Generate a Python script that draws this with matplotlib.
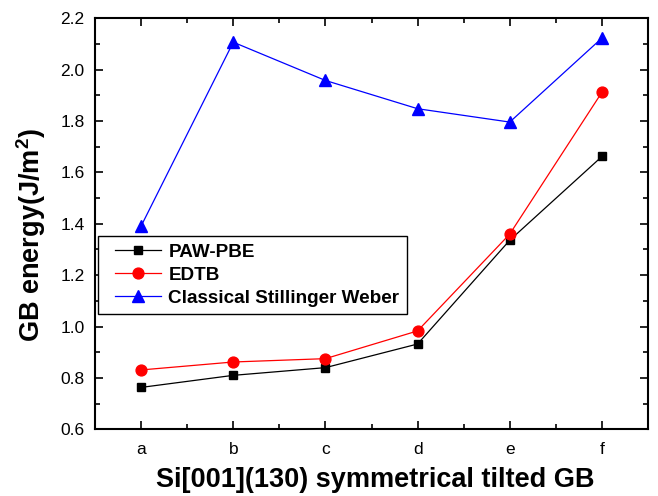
import matplotlib
matplotlib.use("Agg")
import matplotlib.pyplot as plt
from matplotlib.lines import Line2D
from matplotlib.legend_handler import HandlerLine2D
from matplotlib.ticker import MultipleLocator, AutoMinorLocator

plt.rcParams['font.family'] = ['Liberation Sans', 'DejaVu Sans']
plt.rcParams['mathtext.fontset'] = 'custom'
plt.rcParams['mathtext.bf'] = 'Liberation Sans:bold'
plt.rcParams['mathtext.rm'] = 'Liberation Sans'

# data
categories = ['a', 'b', 'c', 'd', 'e', 'f']
paw_pbe = [0.763, 0.810, 0.840, 0.932, 1.336, 1.662]
edtb = [0.831, 0.862, 0.875, 0.983, 1.360, 1.912]
stillinger_weber = [1.391, 2.107, 1.958, 1.848, 1.796, 2.123]

x = list(range(len(categories)))

fig = plt.figure(figsize=(6.58, 4.96), dpi=100)
ax = fig.add_axes([0.1444, 0.1345, 0.8404, 0.8286])

ax.plot(x, paw_pbe, color='black', lw=0.9, marker='s', ms=6.0, label='PAW-PBE')
ax.plot(x, edtb, color='red', lw=0.9, marker='o', ms=7.8, label='EDTB')
ax.plot(x, stillinger_weber, color='blue', lw=0.9, marker='^', ms=9,
        label='Classical Stillinger Weber')

ax.set_xlim(-0.5, 5.5)
ax.set_ylim(0.6, 2.2)
ax.set_xticks(x)
ax.set_xticklabels(categories)
ax.xaxis.set_minor_locator(AutoMinorLocator(2))
ax.yaxis.set_major_locator(MultipleLocator(0.2))
ax.yaxis.set_minor_locator(MultipleLocator(0.1))
ax.yaxis.set_major_formatter(plt.FuncFormatter(lambda v, p: f"{v:.1f}"))

ax.tick_params(which='both', direction='in', top=True, right=True,
               labeltop=False, labelright=False, width=1.2)
ax.tick_params(which='major', length=6, labelsize=12.5)
ax.tick_params(axis='x', which='major', pad=9)
ax.tick_params(axis='y', which='major', pad=7.5)
ax.tick_params(which='minor', length=3.5)
for s in ax.spines.values():
    s.set_linewidth(1.5)

ax.set_xlabel('Si[001](130) symmetrical tilted GB', fontsize=19.5,
              fontweight='bold')
ax.set_ylabel(r'GB energy(J/m$^{\mathbf{2}}$)', fontsize=19.5, fontweight='bold')
ax.xaxis.set_label_coords(0.506, -0.092)
ax.yaxis.set_label_coords(-0.085, 0.474)

leg = ax.legend(loc='upper left', bbox_to_anchor=(0.0054, 0.4703), fancybox=False,
                edgecolor='black', framealpha=1, prop={'weight': 'bold', 'size': 13.6},
                handlelength=2.95, handletextpad=0.37, borderpad=0.4,
                labelspacing=0.3, borderaxespad=0,
                handler_map={Line2D: HandlerLine2D(xpad=0.52)})
leg.get_frame().set_linewidth(1.0)

fig.savefig('out.png', dpi=100)
